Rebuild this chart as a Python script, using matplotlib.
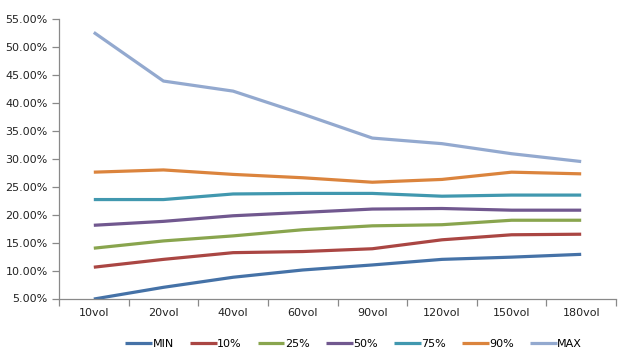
import matplotlib
matplotlib.use("Agg")
import matplotlib.pyplot as plt
from matplotlib.ticker import FixedLocator, FuncFormatter

categories = ["10vol", "20vol", "40vol", "60vol", "90vol", "120vol", "150vol", "180vol"]

v_min = [4.9, 7.0, 8.8, 10.1, 11.0, 12.0, 12.4, 12.9]
v_10 = [10.6, 12.0, 13.2, 13.4, 13.9, 15.5, 16.4, 16.5]
v_25 = [14.0, 15.3, 16.2, 17.3, 18.0, 18.2, 19.0, 19.0]
v_50 = [18.1, 18.8, 19.8, 20.4, 21.0, 21.1, 20.8, 20.8]
v_75 = [22.7, 22.7, 23.7, 23.8, 23.8, 23.3, 23.5, 23.5]
v_90 = [27.6, 28.0, 27.2, 26.6, 25.8, 26.3, 27.6, 27.3]
v_max = [52.6, 43.9, 42.1, 38.0, 33.7, 32.7, 30.9, 29.5]

series = [
    ("MIN", v_min, "#4572A7"),
    ("10%", v_10, "#AA4643"),
    ("25%", v_25, "#89A54E"),
    ("50%", v_50, "#71588F"),
    ("75%", v_75, "#4198AF"),
    ("90%", v_90, "#DB843D"),
    ("MAX", v_max, "#93A9CF"),
]

plt.rcParams["font.family"] = ["DejaVu Sans"]
fig = plt.figure(figsize=(6.35, 3.63), dpi=100)
ax = fig.add_axes([59 / 635, 1 - 298.5 / 363, (616 - 59) / 635, (298.5 - 19) / 363])

x = list(range(len(categories)))
for name, vals, col in series:
    ax.plot(x, vals, color=col, lw=2.3, label=name, solid_capstyle="butt")

ax.set_xlim(-0.5, len(categories) - 0.5)
ax.set_ylim(5, 55)
ax.set_yticks(range(5, 56, 5))
ax.yaxis.set_major_formatter(FuncFormatter(lambda v, p: f"{v:.2f}%"))
ax.set_xticks(x)
ax.set_xticklabels(categories)
ax.xaxis.set_minor_locator(FixedLocator([i - 0.5 for i in range(len(categories) + 1)]))

for s in ["top", "right"]:
    ax.spines[s].set_visible(False)
for s in ["left", "bottom"]:
    ax.spines[s].set_color("#898989")
    ax.spines[s].set_linewidth(0.9)

ax.tick_params(axis="x", which="major", length=0, pad=7, labelsize=8, colors="#222222")
ax.tick_params(axis="x", which="minor", length=5, color="#898989", width=0.9)
ax.tick_params(axis="y", length=5, color="#898989", width=0.9, labelsize=8, labelcolor="#222222", pad=3)

fig.legend(loc="center", bbox_to_anchor=(0.557, 1 - 344 / 363), ncol=7, frameon=False,
           fontsize=8, handlelength=2.4, handletextpad=0.05, columnspacing=1.45)

fig.savefig("out.png", dpi=100)
